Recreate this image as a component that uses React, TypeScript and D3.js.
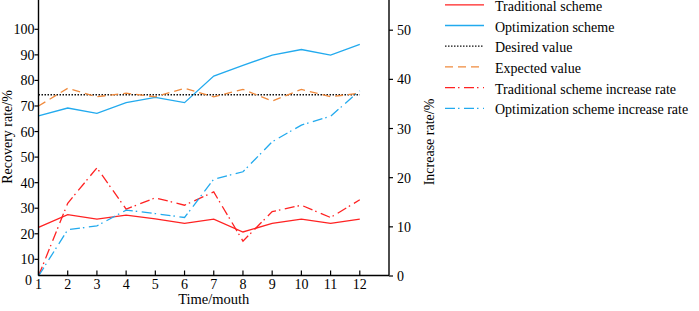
import React from "react";
import * as d3 from "d3";

const months = [1, 2, 3, 4, 5, 6, 7, 8, 9, 10, 11, 12];
const traditional = [22.5, 27.5, 25.7, 27.3, 25.8, 24.1, 25.7, 20.7, 24.1, 25.7, 24.1, 25.7];
const optimization = [66.1, 69.2, 67.1, 71.3, 73.4, 71.3, 81.7, 85.9, 89.9, 92.1, 89.9, 94.1];
const desiredValue = 74.4;
const expected = [70.0, 76.9, 73.6, 75.0, 73.6, 76.9, 73.6, 76.5, 71.9, 76.5, 73.6, 75.0];
const traditionalRate = [0, 14.8, 22.0, 13.6, 15.9, 14.4, 17.1, 7.1, 13.1, 14.4, 11.9, 15.5];
const optimizationRate = [0, 9.4, 10.2, 13.4, 12.7, 11.9, 19.7, 21.2, 27.3, 30.7, 32.5, 37.7];

const leftTicks = [10, 20, 30, 40, 50, 60, 70, 80, 90, 100];
const rightTicks = [0, 10, 20, 30, 40, 50];

const RED = "#ff2222";
const BLUE = "#22aaee";
const ORANGE = "#f08a3c";
const FONT = "Liberation Serif, Times New Roman, serif";

export default function App() {
  const W = 699, H = 311;
  const xL = 38.5, xR = 389, yB = 275.5, yT = 0;
  const x = d3.scaleLinear().domain([1, 13]).range([xL, xR]);
  const yL = d3.scaleLinear().domain([0, 100]).range([284.9, 29.3]);
  const yR = d3.scaleLinear().domain([0, 50]).range([276, 30.2]);

  const lineL = d3.line<number>().x((_, i) => x(months[i])).y((d) => yL(d));
  const lineR = d3.line<number>().x((_, i) => x(months[i])).y((d) => yR(d));

  const dashDot = "10,3,1.5,4.5";
  const series = [
    { name: "Traditional scheme", color: RED, dash: undefined, path: lineL(traditional) },
    { name: "Optimization scheme", color: BLUE, dash: undefined, path: lineL(optimization) },
    { name: "Desired value", color: "#111", dash: "1.5,1.5", path: lineL(months.map(() => desiredValue)) },
    { name: "Expected value", color: ORANGE, dash: "8,5", path: lineL(expected) },
    { name: "Traditional scheme increase rate", color: RED, dash: dashDot, path: lineR(traditionalRate) },
    { name: "Optimization scheme increase rate", color: BLUE, dash: dashDot, path: lineR(optimizationRate) },
  ];

  return (
    <div style={{ position: "fixed", left: 0, top: 0 }}>
      <svg width={W} height={H} style={{ display: "block", background: "#fff", fontFamily: FONT }}>
        {series.map((s) => (
          <path key={s.name} d={s.path || ""} fill="none" stroke={s.color} strokeWidth={1.3}
            strokeDasharray={s.dash} />
        ))}
        <line x1={xL} x2={xL} y1={yT} y2={yB} stroke="#000" strokeWidth={1.4} />
        <line x1={xR} x2={xR} y1={yT} y2={yB} stroke="#000" strokeWidth={1.4} />
        <line x1={xL} x2={xR} y1={yB} y2={yB} stroke="#000" strokeWidth={1.4} />
        {months.map((m) => (
          <g key={m}>
            <line x1={x(m)} x2={x(m)} y1={yB} y2={yB - 5} stroke="#000" strokeWidth={1.2} />
            <text x={x(m)} y={289} fontSize={14} textAnchor="middle">{m}</text>
          </g>
        ))}
        <text x={(xL + xR) / 2} y={304} fontSize={14.5} textAnchor="middle">Time/mouth</text>
        {leftTicks.map((t) => (
          <g key={t}>
            <line x1={xL} x2={xL - 4} y1={yL(t)} y2={yL(t)} stroke="#000" strokeWidth={1.2} />
            <text x={xL - 4} y={yL(t) + 5} fontSize={14} textAnchor="end">{t}</text>
          </g>
        ))}
        <text x={32} y={284.5} fontSize={14} textAnchor="end">0</text>
        <text transform={`translate(12,137) rotate(-90)`} fontSize={14} textAnchor="middle">Recovery rate/%</text>
        {rightTicks.map((t) => (
          <g key={t}>
            <line x1={xR} x2={xR + 4} y1={yR(t)} y2={yR(t)} stroke="#000" strokeWidth={1.2} />
            <text x={xR + 8} y={yR(t) + 5} fontSize={14} textAnchor="start">{t}</text>
          </g>
        ))}
        <text transform={`translate(434,142) rotate(-90)`} fontSize={14} textAnchor="middle">Increase rate/%</text>
        {series.map((s, i) => {
          const ly = 4.8 + i * 20.7;
          return (
            <g key={"lg" + s.name}>
              <line x1={445} x2={484} y1={ly} y2={ly} stroke={s.color} strokeWidth={1.3} strokeDasharray={s.dash} />
              <text x={495} y={ly + 6} fontSize={14}>{s.name}</text>
            </g>
          );
        })}
      </svg>
    </div>
  );
}
